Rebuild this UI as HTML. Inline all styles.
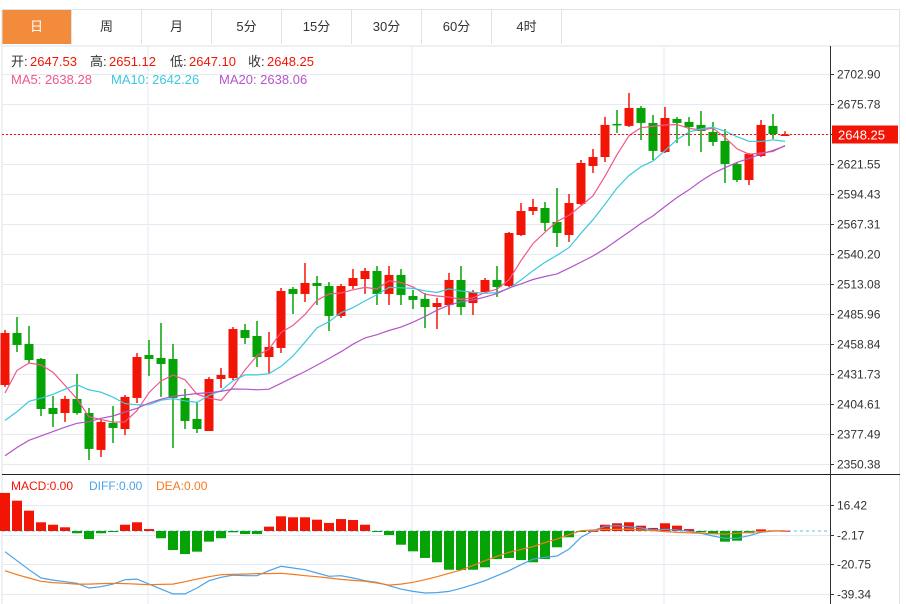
<!DOCTYPE html>
<html><head><meta charset="utf-8">
<style>
body{margin:0;background:#fff;font-family:"Liberation Sans","Noto Sans CJK SC",sans-serif;}
#wrap{position:relative;width:906px;height:604px;overflow:hidden;background:#fff}
.tab{position:absolute;top:10px;height:34px;width:70px;line-height:34px;text-align:center;font-size:13px;color:#333;border-right:1px solid #dde3ea;box-sizing:border-box}
.tab.on{background:#f28c3c;color:#fff}
</style></head><body>
<div id="wrap">
<div style="position:absolute;left:2px;top:9px;width:898px;height:1px;background:#dde3ea"></div>
<div class="tab on" style="left:2px">日</div>
<div class="tab" style="left:72px">周</div>
<div class="tab" style="left:142px">月</div>
<div class="tab" style="left:212px">5分</div>
<div class="tab" style="left:282px">15分</div>
<div class="tab" style="left:352px">30分</div>
<div class="tab" style="left:422px">60分</div>
<div class="tab" style="left:492px">4时</div>
<svg id="svg" width="906" height="604" style="position:absolute;left:0;top:0"></svg>
</div>
<script>
const opens=[2421.8,2468.8,2458.9,2445.3,2401.0,2396.5,2409.2,2396.5,2363.1,2387.5,2382.0,2410.1,2448.9,2446.2,2445.3,2410.1,2391.1,2380.2,2427.2,2428.1,2471.5,2466.1,2447.1,2455.3,2508.6,2504.1,2514.0,2511.3,2484.2,2511.3,2517.6,2524.9,2504.1,2521.3,2502.3,2499.6,2492.3,2494.1,2516.7,2495.9,2505.9,2516.7,2511.3,2557.4,2579.1,2581.8,2569.2,2557.4,2585.4,2619.8,2627.9,2657.8,2656.0,2672.2,2658.7,2632.4,2662.3,2659.6,2656.9,2650.5,2642.4,2621.6,2607.1,2628.8,2656.0,2647.53];
const highs=[2471.5,2483.3,2475.2,2446.2,2411.9,2411.9,2431.8,2401.0,2391.1,2402.8,2412.8,2450.7,2462.5,2477.9,2458.9,2418.2,2406.4,2429.0,2437.2,2474.2,2477.0,2479.7,2469.7,2509.5,2510.4,2532.1,2520.4,2514.9,2513.1,2526.7,2527.6,2529.4,2529.4,2526.7,2507.7,2505.0,2500.5,2523.1,2529.4,2507.7,2518.5,2529.4,2560.1,2586.3,2590.0,2587.2,2599.9,2594.5,2625.2,2635.2,2664.1,2670.4,2685.8,2674.0,2665.9,2673.1,2664.0,2664.0,2669.5,2659.6,2653.2,2623.4,2631.5,2661.4,2666.8,2651.12];
const lows=[2420.0,2451.6,2441.7,2393.8,2383.8,2388.4,2395.0,2354.0,2356.7,2369.4,2376.6,2405.5,2430.0,2411.0,2364.9,2382.0,2378.4,2380.2,2419.1,2426.3,2458.9,2438.1,2432.7,2450.7,2486.0,2496.8,2494.1,2470.6,2482.4,2508.6,2504.1,2494.1,2494.1,2494.1,2490.5,2473.3,2472.4,2485.1,2485.1,2485.1,2506.8,2501.4,2510.4,2556.5,2575.5,2561.0,2546.6,2551.1,2584.5,2613.5,2623.4,2649.6,2655.0,2643.3,2625.2,2631.5,2640.6,2637.9,2632.4,2637.9,2604.4,2605.3,2602.6,2627.9,2644.2,2647.10];
const closes=[2468.8,2458.0,2444.4,2400.1,2395.6,2409.2,2396.5,2364.0,2388.4,2382.9,2411.0,2447.1,2445.3,2440.8,2410.1,2389.3,2382.0,2427.2,2430.9,2472.4,2464.3,2447.1,2456.2,2506.8,2504.1,2514.0,2511.3,2484.2,2511.3,2518.5,2524.9,2504.1,2521.3,2503.2,2498.7,2492.3,2495.9,2516.7,2492.3,2505.9,2516.7,2510.4,2559.2,2579.1,2582.7,2568.3,2559.2,2586.3,2622.5,2627.9,2656.9,2656.5,2672.2,2658.7,2633.4,2663.2,2658.7,2655.0,2651.4,2641.5,2621.6,2607.1,2630.6,2656.9,2648.7,2648.25];
const prevCloses=[2310,2315,2320,2318,2330,2325,2335,2328,2340,2339,2380,2350,2372,2360,2363,2356,2411,2409,2428];
const priceTicks=[2702.90,2675.78,2648.67,2621.55,2594.43,2567.31,2540.20,2513.08,2485.96,2458.84,2431.73,2404.61,2377.49,2350.38];
const macdBars=[23.6,18.8,12.6,5.4,3.9,2.3,-1.4,-5.0,-1.4,-0.2,3.9,5.4,1.2,-4.5,-11.8,-14.3,-12.8,-6.6,-4.5,-0.8,-1.9,-1.9,2.7,9.1,8.5,8.5,7.0,5.0,7.4,6.8,3.9,-0.4,-2.5,-8.5,-12.6,-16.7,-19.4,-24.0,-24.2,-24.0,-22.5,-17.4,-16.7,-18.0,-19.4,-17.4,-10.1,-3.9,-0.4,0.1,3.9,4.8,5.4,3.3,1.9,4.8,3.3,1.2,-0.8,-1.9,-6.6,-6.0,-1.4,1.0,0.4,0.2];
const diffs=[-12.8,-18.4,-24.0,-29.1,-30.4,-31.4,-32.4,-35.3,-34.5,-32.9,-30.2,-29.8,-32.9,-36.0,-39.0,-39.0,-35.3,-30.8,-28.7,-27.3,-27.7,-27.7,-24.6,-21.9,-22.9,-24.0,-26.0,-28.1,-27.7,-29.1,-30.8,-31.8,-33.9,-36.0,-37.4,-38.4,-38.2,-37.4,-35.5,-33.3,-30.8,-27.7,-24.6,-20.9,-17.4,-16.3,-15.5,-11.2,-3.9,0.2,2.9,3.3,2.7,1.9,0.6,1.0,0.6,-0.2,-1.4,-3.1,-4.5,-4.5,-2.9,-0.8,0,0.2];
const deas=[-24.6,-27.1,-29.1,-31.2,-32.0,-32.4,-32.9,-32.9,-32.6,-32.4,-32.6,-32.9,-33.3,-33.1,-32.9,-31.4,-29.8,-28.3,-27.1,-26.9,-26.7,-26.4,-26.4,-26.2,-26.9,-27.7,-28.3,-29.1,-30.0,-30.6,-31.2,-32.2,-33.5,-32.9,-31.8,-30.2,-28.3,-26.2,-24.2,-21.3,-18.4,-15.7,-13.2,-11.4,-9.7,-7.2,-5.0,-2.3,0.2,0.6,1.0,1.0,1.2,0.6,0.2,-0.4,-0.8,-1.2,-1.4,-1.7,-1.9,-1.4,-0.8,-0.4,0,0];
const macdTicks=[16.42,-2.17,-20.75,-39.34];

const NS='http://www.w3.org/2000/svg';
const svg=document.getElementById('svg');
function mk(tag,attrs,parent){const e=document.createElementNS(NS,tag);for(const k in attrs)e.setAttribute(k,attrs[k]);(parent||svg).appendChild(e);return e;}
const px=i=>5+12*i;
const py=v=>464-(v-2350.38)*30/27.12;
const my=v=>531-v*30/18.59;
const UP='#f21505',DN='#06a306';

// frame & grids
let g;
g=mk('line',{x1:2,y1:46,x2:900,y2:46,stroke:'#dde3ea'});


g=mk('line',{x1:2,y1:10,x2:2,y2:604,stroke:'#dde3ea'});


g=mk('line',{x1:899.5,y1:10,x2:899.5,y2:604,stroke:'#dde3ea'});


[148,412,664].forEach(x=>{
 g=mk('line',{x1:x,y1:46,x2:x,y2:604,stroke:'#e3eaf1'});
 
 
});
priceTicks.forEach((t,k)=>{
 const y=Math.round(py(t))+0.5;
 g=mk('line',{x1:2,y1:y,x2:830,y2:y,stroke:'#e3eaf1'});
 
 
 mk('line',{x1:830,y1:y,x2:834,y2:y,stroke:'#333'});
 if(k!==2){
  const tx=mk('text',{x:837,y:y+4,'font-size':12,fill:'#333','font-family':'Liberation Sans, sans-serif'});
  tx.textContent=t.toFixed(2);
  
  
 }
});
macdTicks.forEach(t=>{
 const y=Math.round(my(t))+0.5;
 g=mk('line',{x1:2,y1:y,x2:830,y2:y,stroke:'#e3eaf1'});
 
 
 mk('line',{x1:830,y1:y,x2:834,y2:y,stroke:'#333'});
 const tx=mk('text',{x:837,y:y+4,'font-size':12,fill:'#333','font-family':'Liberation Sans, sans-serif'});
 tx.textContent=t.toFixed(2);
 
 
});
g=mk('line',{x1:830.5,y1:46,x2:830.5,y2:604,stroke:'#333'});


g=mk('line',{x1:2,y1:474.5,x2:900,y2:474.5,stroke:'#222'});



// candles
closes.forEach((c,i)=>{
 const o=opens[i],h=highs[i],l=lows[i],col=c>=o?UP:DN,x=px(i);
 const cg=mk('g',{});
 
 
 mk('line',{x1:x,y1:py(h),x2:x,y2:py(l),stroke:col,'stroke-width':1.5},cg);
 const t=Math.min(py(o),py(c)),b=Math.max(py(o),py(c));
 mk('rect',{x:x-4.5,y:t,width:9,height:Math.max(1.5,b-t),fill:col},cg);
});

// moving averages
const all=prevCloses.concat(closes),P=prevCloses.length;
function ma(n){return closes.map((_,i)=>{let s=0;for(let k=0;k<n;k++)s+=all[P+i-k];return s/n;});}
[[5,'#f0578a','ma5-line'],[10,'#3cc8df','ma10-line'],[20,'#b455c8','ma20-line']].forEach(([n,col,name])=>{
 const m=ma(n);
 const l=mk('polyline',{points:m.map((v,i)=>px(i)+','+py(v).toFixed(1)).join(' '),fill:'none',stroke:col,'stroke-width':1.2});
 
 
});

// last price
const lastY=py(closes[closes.length-1]);
g=mk('line',{x1:2,y1:lastY,x2:830,y2:lastY,stroke:UP,'stroke-dasharray':'2,2'});


g=mk('rect',{x:832,y:lastY-9,width:66,height:18,fill:UP});


g=mk('text',{x:838,y:lastY+5,'font-size':13,fill:'#fff','font-family':'Liberation Sans, sans-serif'});
g.textContent=closes[closes.length-1].toFixed(2);



// MACD
g=mk('line',{x1:2,y1:my(0),x2:830,y2:my(0),stroke:'#5bc0eb','stroke-dasharray':'3,3'});


macdBars.forEach((v,i)=>{
 const y0=my(0),y1=my(v);
 const r=mk('rect',{x:px(i)-5,y:Math.min(y0,y1),width:10,height:Math.max(1,Math.abs(y1-y0)),fill:v>=0?UP:DN});
 
 
});
[[diffs,'#4aa3e8','diff-line'],[deas,'#f47a1f','dea-line']].forEach(([arr,col,name])=>{
 const l=mk('polyline',{points:arr.map((v,i)=>px(i)+','+my(v).toFixed(1)).join(' '),fill:'none',stroke:col,'stroke-width':1.2});
 
 
});

// legends
function txt(x,y,s,col,name,size){const t=mk('text',{x:x,y:y,'font-size':size||13,fill:col,'font-family':'Liberation Sans, Noto Sans CJK SC, sans-serif'});t.textContent=s;return t;}
txt(11,66,'开:','#333','open-label');txt(30,66,'2647.53',UP,'open-value');
txt(90,66,'高:','#333','high-label');txt(109,66,'2651.12',UP,'high-value');
txt(170,66,'低:','#333','low-label');txt(189,66,'2647.10',UP,'low-value');
txt(248,66,'收:','#333','close-label');txt(267,66,'2648.25',UP,'close-value');
txt(11,84,'MA5: 2638.28','#f0578a','ma5-legend');
txt(111,84,'MA10: 2642.26','#3cc8df','ma10-legend');
txt(219,84,'MA20: 2638.06','#b455c8','ma20-legend');
txt(11,490,'MACD:0.00',UP,'macd-legend',12);
txt(89,490,'DIFF:0.00','#4aa3e8','diff-legend',12);
txt(156,490,'DEA:0.00','#f47a1f','dea-legend',12);
</script>
</body></html>
